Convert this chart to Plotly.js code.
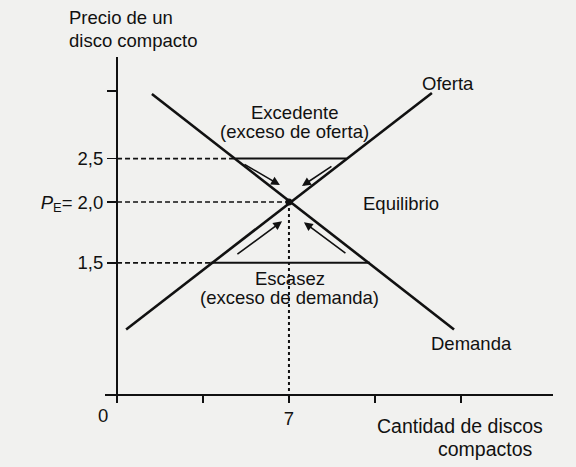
<!DOCTYPE html>
<html>
<head>
<meta charset="utf-8">
<script src="https://cdn.plot.ly/plotly-3.0.1.min.js"></script>
<style>html,body{margin:0;padding:0;background:#f1f1ef;}#chart{width:576px;height:467px;}</style>
</head>
<body>
<div id="chart"></div>
<script>
// ---- data (quantity of CDs, price; price axis positions) ----
const demandQ = [1.42, 13.72];
const demandP = [3.12, 0.68];
const supplyQ = [0.37, 12.82];
const supplyP = [0.68, 3.13];
const eqQ = 7;
const eqP = 2.0;
const surplusP = 2.45;            // drawn level of the 2,5 price line
const surplusQ = [4.82, 9.34];    // demand / supply at that price
const shortageP = 1.37;           // drawn level of the 1,5 price line
const shortageQ = [3.8, 10.3];    // supply / demand at that price
const yTickVals = [3.15, 2.45, 2.0, 1.37];
const yTickText = ['', '2,5', '<i>P</i><sub>E</sub>= 2,0', '1,5'];
const xTickVals = [0, 3.5, 7, 10.5, 14];
const xTickText = ['', '', '7', '', ''];
// arrows: tail -> head
const arrowTailQ = [5.13, 8.79, 4.84, 9.36];
const arrowTailP = [2.40, 2.38, 1.45, 1.46];
const arrowHeadQ = [6.63, 7.53, 6.72, 7.61];
const arrowHeadP = [2.176, 2.166, 1.80, 1.79];

const ink = '#111111';
const fam = '"Liberation Sans", Arial, Helvetica, sans-serif';
const fs = 18.5;

const traces = [
  {x: [0, surplusQ[0]], y: [surplusP, surplusP], mode: 'lines', line: {color: ink, width: 1.6, dash: '5px,3px'}},
  {x: surplusQ, y: [surplusP, surplusP], mode: 'lines', line: {color: ink, width: 2}},
  {x: [0, eqQ], y: [eqP, eqP], mode: 'lines', line: {color: ink, width: 1.6, dash: '5px,3px'}},
  {x: [0, shortageQ[0]], y: [shortageP, shortageP], mode: 'lines', line: {color: ink, width: 1.6, dash: '5px,3px'}},
  {x: shortageQ, y: [shortageP, shortageP], mode: 'lines', line: {color: ink, width: 2}},
  {x: [eqQ, eqQ], y: [eqP, -0.05], mode: 'lines', line: {color: ink, width: 2, dash: '3px,3px'}},
  {x: demandQ, y: demandP, mode: 'lines', line: {color: ink, width: 2.6}},
  {x: supplyQ, y: supplyP, mode: 'lines', line: {color: ink, width: 2.6}},
  {x: [eqQ], y: [eqP], mode: 'markers', marker: {color: ink, size: 7}}
];

function txt(t, x, y, xa) {
  return {text: t, x: x, y: y, xref: 'x', yref: 'y', showarrow: false,
          xanchor: xa || 'center', yanchor: 'middle', font: {family: fam, size: fs, color: ink}};
}
function ptxt(t, x, y, xa, size) {
  return {text: t, x: x, y: y, xref: 'paper', yref: 'paper', showarrow: false,
          xanchor: xa || 'center', yanchor: 'middle', font: {family: fam, size: size || fs, color: ink}};
}
const annotations = [
  ptxt('Precio de un', 0.117, 0.9615, 'left'),
  ptxt('disco compacto', 0.117, 0.9143, 'left'),
  txt('Excedente', 7.24, 2.93),
  txt('(exceso de oferta)', 7.24, 2.736),
  txt('Oferta', 13.47, 3.233),
  txt('Equilibrio', 11.56, 1.99),
  txt('Escasez', 7.04, 1.212),
  txt('(exceso de demanda)', 7.04, 1.016),
  txt('Demanda', 14.45, 0.539),
  ptxt('Cantidad de discos', 0.9462, 0.0878, 'right', 19.5),
  ptxt('compactos', 0.9288, 0.0385, 'right', 19.5),
  ptxt('0', 0.1788, 0.1113)
];
for (let i = 0; i < arrowTailQ.length; i++) {
  annotations.push({x: arrowHeadQ[i], y: arrowHeadP[i], ax: arrowTailQ[i], ay: arrowTailP[i],
    xref: 'x', yref: 'y', axref: 'x', ayref: 'y', showarrow: true, text: '',
    arrowhead: 2, arrowsize: 1.1, arrowwidth: 1.6, arrowcolor: ink});
}

const layout = {
  width: 576, height: 467,
  margin: {l: 0, r: 0, t: 0, b: 0},
  paper_bgcolor: '#f1f1ef', plot_bgcolor: '#f1f1ef',
  showlegend: false,
  font: {family: fam, size: fs, color: ink},
  xaxis: {
    domain: [105/576, 553/576], range: [-0.49, 17.75],
    anchor: 'free', position: 1 - 395/467,
    showgrid: false, zeroline: false, showline: true, linecolor: ink, linewidth: 2,
    ticks: 'outside', ticklen: 7, tickwidth: 1.5, tickcolor: ink,
    tickmode: 'array', tickvals: xTickVals, ticktext: xTickText,
    tickfont: {family: fam, size: fs, color: ink}
  },
  yaxis: {
    domain: [1 - 397/467, 1 - 57/467], range: [-0.02, 3.503],
    anchor: 'free', position: 117/576,
    showgrid: false, zeroline: false, showline: true, linecolor: ink, linewidth: 2,
    ticks: 'outside', ticklen: 9, tickwidth: 1.5, tickcolor: ink,
    tickmode: 'array', tickvals: yTickVals, ticktext: yTickText,
    tickfont: {family: fam, size: fs, color: ink}
  },
  annotations: annotations
};

Plotly.newPlot('chart', traces, layout, {staticPlot: true, displayModeBar: false});
</script>
</body>
</html>
